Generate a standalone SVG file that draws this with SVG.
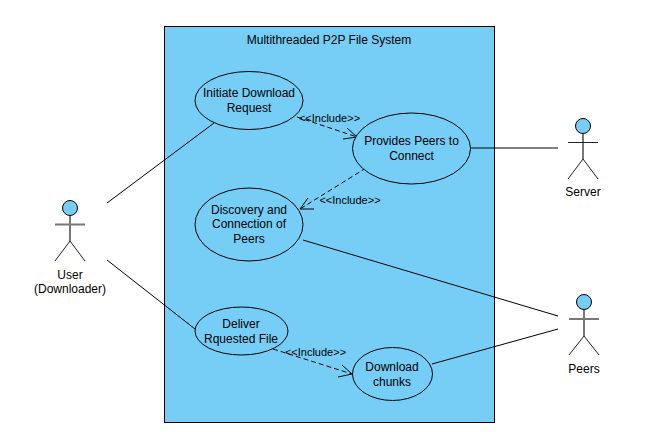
<svg xmlns="http://www.w3.org/2000/svg" width="664" height="432" viewBox="0 0 664 432">
<style>
text{font-family:"Liberation Sans",Arial,sans-serif;font-size:12px;fill:#000;text-anchor:middle}
.lbl{font-size:11px}
.sys{fill:#76CEF7;stroke:#000;stroke-width:1}
.uc{fill:#76CEF7;stroke:#000;stroke-width:1}
.head{fill:#76CEF7;stroke:#000;stroke-width:1}
.limb{fill:none;stroke:#222;stroke-width:1}
.body{fill:none;stroke:#777;stroke-width:2}
.assoc{fill:none;stroke:#000;stroke-width:1}
.dash{fill:none;stroke:#000;stroke-width:1;stroke-dasharray:5 3}
.open{fill:none;stroke:#000;stroke-width:1}
</style>
<rect width="664" height="432" fill="#fff"/>
<g id="system">
<rect class="sys" x="164.5" y="26.5" width="330" height="396"/>
<text x="329" y="44">Multithreaded P2P File System</text>
</g>
<g id="connectors">
<path class="assoc" d="M107 203L214 123"/>
<path class="assoc" d="M107 260L195 329"/>
<path class="assoc" d="M470 148H558"/>
<path class="assoc" d="M303 240L558 316"/>
<path class="assoc" d="M432 364L558 329"/>
<path class="dash" d="M297 117L357 137"/>
<path class="open" d="M347 128L357 137L343 139"/>
<path class="dash" d="M366 168L300 209"/>
<path class="open" d="M308 198L300 209L314 209"/>
<path class="dash" d="M273 349L352 374"/>
<path class="open" d="M342 365L352 374L338 377"/>
<text class="lbl" x="329.500" y="122">&lt;&lt;Include&gt;&gt;</text>
<text class="lbl" x="350" y="204">&lt;&lt;Include&gt;&gt;</text>
<text class="lbl" x="315.500" y="356">&lt;&lt;Include&gt;&gt;</text>
</g>
<g id="uc-initiate">
<ellipse class="uc" cx="249" cy="100.5" rx="54" ry="29"/>
<text x="249" y="97">Initiate Download</text>
<text x="249" y="112">Request</text>
</g>
<g id="uc-provides">
<ellipse class="uc" cx="411.5" cy="148.5" rx="59" ry="35.5"/>
<text x="411.5" y="145">Provides Peers to</text>
<text x="411.5" y="160">Connect</text>
</g>
<g id="uc-discovery">
<ellipse class="uc" cx="249" cy="224.5" rx="54" ry="36.5"/>
<text x="249" y="214">Discovery and</text>
<text x="249" y="228">Connection of</text>
<text x="249" y="243">Peers</text>
</g>
<g id="uc-deliver">
<ellipse class="uc" cx="241.5" cy="331" rx="46.5" ry="24"/>
<text x="241" y="328">Deliver</text>
<text x="241" y="343">Rquested File</text>
</g>
<g id="uc-download">
<ellipse class="uc" cx="392.5" cy="374" rx="40" ry="26.5"/>
<text x="392" y="371">Download</text>
<text x="392" y="386">chunks</text>
</g>
<g id="actor-user">
<path class="body" d="M70 216V241M55 224.500H85"/>
<path class="limb" d="M55 261L70 241L85 261"/>
<circle class="head" cx="70" cy="208" r="7.500"/>
<text x="70" y="279">User</text>
<text x="70" y="293">(Downloader)</text>
</g>
<g id="actor-server">
<path class="body" d="M583 134V159"/>
<path class="limb" d="M568 142.500H598M568 179L583 159L598 179"/>
<circle class="head" cx="583" cy="126" r="7.500"/>
<text x="583" y="196">Server</text>
</g>
<g id="actor-peers">
<path class="body" d="M584 310V336M569 319H599"/>
<path class="limb" d="M569 355L584 336L599 355"/>
<circle class="head" cx="584" cy="302" r="7.500"/>
<text x="584" y="373">Peers</text>
</g>
</svg>
